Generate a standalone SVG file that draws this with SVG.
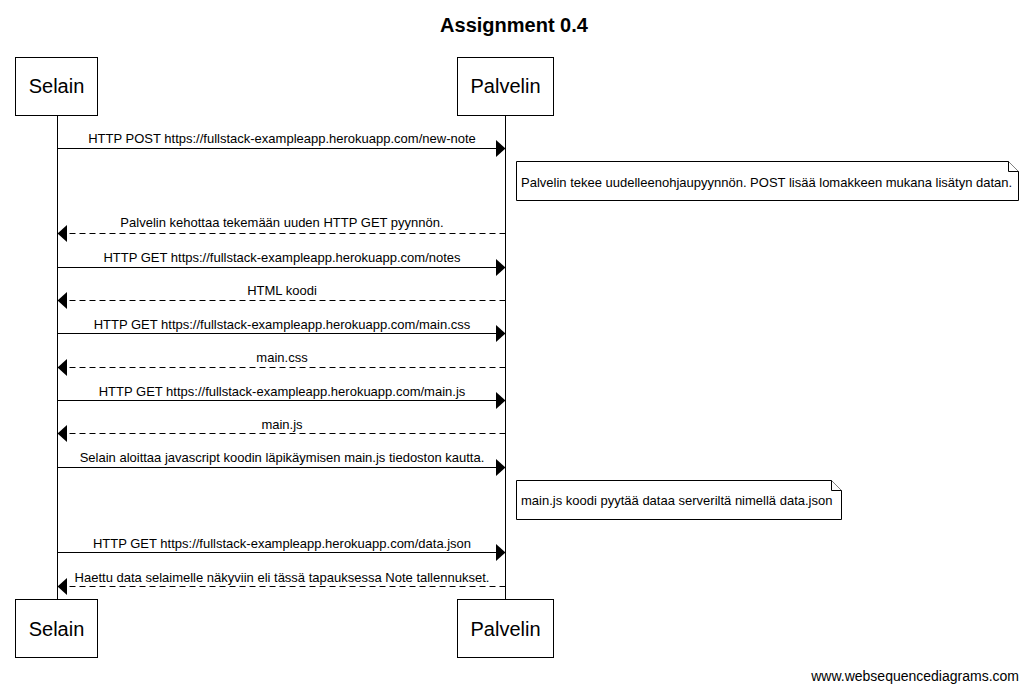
<svg xmlns="http://www.w3.org/2000/svg" width="1028" height="690" viewBox="0 0 1028 690">
<defs>
<style>
text{font-family:"Liberation Sans",Arial,sans-serif;fill:#000}
.title{font-size:20px;font-weight:bold}
.part{font-size:20px}
.lbl{font-size:13px}
.box{fill:#fff;stroke:#000;stroke-width:1}
.life{stroke:#000;stroke-width:1}
.msg{stroke:#000;stroke-width:1;fill:none}
.ret{stroke:#000;stroke-width:1;fill:none;stroke-dasharray:6,4}
.head{fill:#000}
.foot{font-size:14px}
</style>
</defs>
<rect width="1028" height="690" fill="#fff"/>
<text class="title" x="514" y="32" text-anchor="middle">Assignment 0.4</text>

<g id="lifelines">
<line class="life" x1="57.5" y1="115" x2="57.5" y2="599"/>
<line class="life" x1="505.5" y1="115" x2="505.5" y2="599"/>
</g>

<g id="selain-top"><rect class="box" x="15.5" y="57.5" width="82" height="58"/><text class="part" x="56.5" y="93" text-anchor="middle">Selain</text></g>
<g id="palvelin-top"><rect class="box" x="457.5" y="57.5" width="96" height="58"/><text class="part" x="505.5" y="93" text-anchor="middle">Palvelin</text></g>
<g id="selain-bottom"><rect class="box" x="15.5" y="599.5" width="82" height="58"/><text class="part" x="56.5" y="636" text-anchor="middle">Selain</text></g>
<g id="palvelin-bottom"><rect class="box" x="457.5" y="599.5" width="96" height="58"/><text class="part" x="505.5" y="636" text-anchor="middle">Palvelin</text></g>

<g id="connectors">
<line class="msg" x1="57.5" y1="148.5" x2="497" y2="148.5"/><path class="head" d="M496,140 L505.5,148.5 L496,157 Z"/>
<text class="lbl" x="282" y="143" text-anchor="middle">HTTP POST https://fullstack-exampleapp.herokuapp.com/new-note</text>

<line class="ret" x1="505.5" y1="233.5" x2="66" y2="233.5"/><path class="head" d="M67,225 L57.5,233.5 L67,242 Z"/>
<text class="lbl" x="282" y="227" text-anchor="middle">Palvelin kehottaa tekemään uuden HTTP GET pyynnön.</text>

<line class="msg" x1="57.5" y1="267.5" x2="497" y2="267.5"/><path class="head" d="M496,259 L505.5,267.5 L496,276 Z"/>
<text class="lbl" x="282" y="262" text-anchor="middle">HTTP GET https://fullstack-exampleapp.herokuapp.com/notes</text>

<line class="ret" x1="505.5" y1="300.5" x2="66" y2="300.5"/><path class="head" d="M67,292 L57.5,300.5 L67,309 Z"/>
<text class="lbl" x="282" y="295" text-anchor="middle">HTML koodi</text>

<line class="msg" x1="57.5" y1="333.5" x2="497" y2="333.5"/><path class="head" d="M496,325 L505.5,333.5 L496,342 Z"/>
<text class="lbl" x="282" y="329" text-anchor="middle">HTTP GET https://fullstack-exampleapp.herokuapp.com/main.css</text>

<line class="ret" x1="505.5" y1="367.5" x2="66" y2="367.5"/><path class="head" d="M67,359 L57.5,367.5 L67,376 Z"/>
<text class="lbl" x="282" y="362" text-anchor="middle">main.css</text>

<line class="msg" x1="57.5" y1="400.5" x2="497" y2="400.5"/><path class="head" d="M496,392 L505.5,400.5 L496,409 Z"/>
<text class="lbl" x="282" y="396" text-anchor="middle">HTTP GET https://fullstack-exampleapp.herokuapp.com/main.js</text>

<line class="ret" x1="505.5" y1="433.5" x2="66" y2="433.5"/><path class="head" d="M67,425 L57.5,433.5 L67,442 Z"/>
<text class="lbl" x="282" y="429" text-anchor="middle">main.js</text>

<line class="msg" x1="57.5" y1="467.5" x2="497" y2="467.5"/><path class="head" d="M496,459 L505.5,467.5 L496,476 Z"/>
<text class="lbl" x="282" y="462" text-anchor="middle">Selain aloittaa javascript koodin läpikäymisen main.js tiedoston kautta.</text>

<line class="msg" x1="57.5" y1="552.5" x2="497" y2="552.5"/><path class="head" d="M496,544 L505.5,552.5 L496,561 Z"/>
<text class="lbl" x="282" y="548" text-anchor="middle">HTTP GET https://fullstack-exampleapp.herokuapp.com/data.json</text>

<line class="ret" x1="505.5" y1="586.5" x2="66" y2="586.5"/><path class="head" d="M67,578 L57.5,586.5 L67,595 Z"/>
<text class="lbl" x="282" y="582" text-anchor="middle">Haettu data selaimelle näkyviin eli tässä tapauksessa Note tallennukset.</text>
</g>

<g id="note1">
<path class="box" d="M516.5,161.5 H1008.5 L1018.5,171.5 V200.5 H516.5 Z"/>
<path fill="#fff" stroke="#000" d="M1008.5,161.5 V171.5 H1018.5"/>
<text class="lbl" x="521" y="187">Palvelin tekee uudelleenohjaupyynnön. POST lisää lomakkeen mukana lisätyn datan.</text>
</g>

<g id="note2">
<path class="box" d="M516.5,480.5 H831.5 L841.5,490.5 V519.5 H516.5 Z"/>
<path fill="#fff" stroke="#000" d="M831.5,480.5 V490.5 H841.5"/>
<text class="lbl" x="521" y="505">main.js koodi pyytää dataa serveriltä nimellä data.json</text>
</g>

<text class="foot" x="1019" y="681" text-anchor="end">www.websequencediagrams.com</text>
</svg>
